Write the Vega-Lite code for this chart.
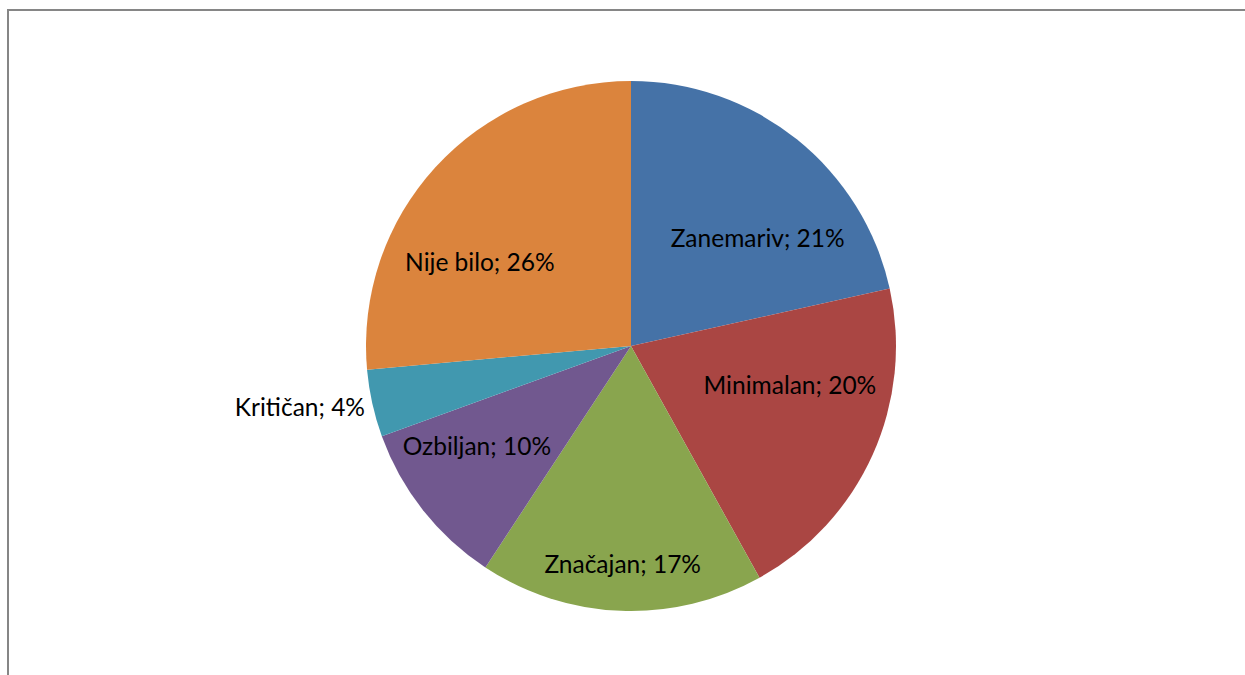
{
  "$schema": "https://vega.github.io/schema/vega-lite/v6.json",
  "width": 1246,
  "height": 672,
  "autosize": {"type": "none"},
  "padding": {"left": 8, "top": 10, "right": -9, "bottom": -7},
  "background": "white",
  "view": {"stroke": "#868686", "strokeWidth": 2},
  "data": {
    "values": [
      {"i": 1, "kategorija": "Zanemariv", "udio": 21.5, "oznaka": "Zanemariv; 21%"},
      {"i": 2, "kategorija": "Minimalan", "udio": 20.4, "oznaka": "Minimalan; 20%"},
      {"i": 3, "kategorija": "Značajan", "udio": 17.3, "oznaka": "Značajan; 17%"},
      {"i": 4, "kategorija": "Ozbiljan", "udio": 10.2, "oznaka": "Ozbiljan; 10%"},
      {"i": 5, "kategorija": "Kritičan", "udio": 4.1, "oznaka": "Kritičan; 4%"},
      {"i": 6, "kategorija": "Nije bilo", "udio": 26.4, "oznaka": "Nije bilo; 26%"}
    ]
  },
  "encoding": {
    "theta": {"field": "udio", "type": "quantitative", "stack": true},
    "order": {"field": "i", "type": "quantitative"},
    "color": {
      "field": "kategorija",
      "type": "nominal",
      "scale": {
        "domain": ["Zanemariv", "Minimalan", "Značajan", "Ozbiljan", "Kritičan", "Nije bilo"],
        "range": ["#4572A7", "#AA4643", "#89A54E", "#71588F", "#4198AF", "#DB843D"]
      },
      "legend": null
    }
  },
  "layer": [
    {"mark": {"type": "arc", "outerRadius": 265}},
    {
      "mark": {"type": "text", "radius": 165, "thetaOffset": 0.199, "font": "Lato", "fontSize": 24.5},
      "encoding": {
        "text": {"condition": {"test": "datum.kategorija === 'Zanemariv'", "field": "oznaka"}, "value": ""},
        "color": {"value": "black"}
      }
    },
    {
      "mark": {"type": "text", "radius": 164, "thetaOffset": -0.173, "font": "Lato", "fontSize": 24.5},
      "encoding": {
        "text": {"condition": {"test": "datum.kategorija === 'Minimalan'", "field": "oznaka"}, "value": ""},
        "color": {"value": "black"}
      }
    },
    {
      "mark": {"type": "text", "radius": 220, "font": "Lato", "fontSize": 24.5},
      "encoding": {
        "text": {"condition": {"test": "datum.kategorija === 'Značajan'", "field": "oznaka"}, "value": ""},
        "color": {"value": "black"}
      }
    },
    {
      "mark": {"type": "text", "radius": 185, "thetaOffset": 0.082, "font": "Lato", "fontSize": 24.5},
      "encoding": {
        "text": {"condition": {"test": "datum.kategorija === 'Ozbiljan'", "field": "oznaka"}, "value": ""},
        "color": {"value": "black"}
      }
    },
    {
      "mark": {"type": "text", "radius": 337, "thetaOffset": 0.031, "font": "Lato", "fontSize": 24.5},
      "encoding": {
        "text": {"condition": {"test": "datum.kategorija === 'Kritičan'", "field": "oznaka"}, "value": ""},
        "color": {"value": "black"}
      }
    },
    {
      "mark": {"type": "text", "radius": 172, "thetaOffset": -0.243, "font": "Lato", "fontSize": 24.5},
      "encoding": {
        "text": {"condition": {"test": "datum.kategorija === 'Nije bilo'", "field": "oznaka"}, "value": ""},
        "color": {"value": "black"}
      }
    }
  ]
}
